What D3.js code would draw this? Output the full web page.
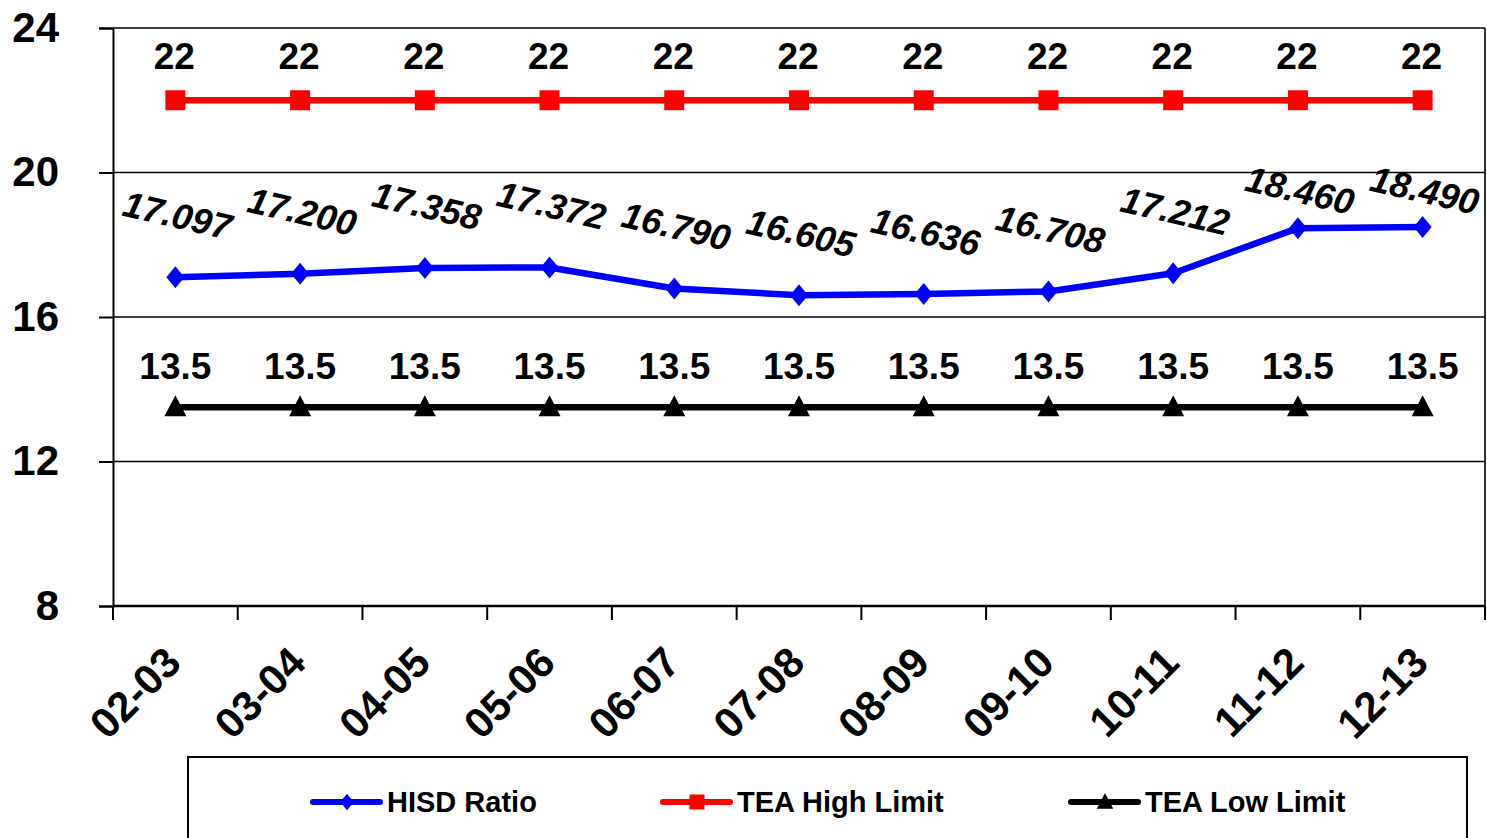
<!DOCTYPE html>
<html>
<head>
<meta charset="utf-8">
<script src="https://cdn.jsdelivr.net/npm/d3@7/dist/d3.min.js"></script>
<style>
  html, body { margin: 0; padding: 0; background: #fff; }
  svg { display: block; }
  text { font-family: "Liberation Sans", Arial, sans-serif; font-weight: bold; fill: #000; }
</style>
</head>
<body>
<svg id="chart" width="1487" height="838"></svg>
<script>
// School years on the x axis
const categories = ["02-03", "03-04", "04-05", "05-06", "06-07", "07-08", "08-09", "09-10", "10-11", "11-12", "12-13"];
// Student/teacher ratio series
const hisdRatio = [17.097, 17.200, 17.358, 17.372, 16.790, 16.605, 16.636, 16.708, 17.212, 18.460, 18.490];
const teaHigh   = [22, 22, 22, 22, 22, 22, 22, 22, 22, 22, 22];
const teaLow    = [13.5, 13.5, 13.5, 13.5, 13.5, 13.5, 13.5, 13.5, 13.5, 13.5, 13.5];
const yTicks    = [8, 12, 16, 20, 24];
const seriesNames = ["HISD Ratio", "TEA High Limit", "TEA Low Limit"];

const svg = d3.select("#chart");
const plot = { left: 113, right: 1485, top: 28, bottom: 606 };

const x = d3.scaleBand().domain(categories).range([plot.left, plot.right]);
const y = d3.scaleLinear().domain([8, 24]).range([plot.bottom, plot.top]);
const cx = c => x(c) + x.bandwidth() / 2;

// gridlines and frame
svg.append("g").selectAll("line").data(yTicks.filter(v => v > 8)).join("line")
  .attr("x1", plot.left).attr("x2", plot.right)
  .attr("y1", d => y(d)).attr("y2", d => y(d))
  .attr("stroke", "#000").attr("stroke-width", 1.6);
svg.append("line").attr("x1", plot.right).attr("x2", plot.right)
  .attr("y1", plot.top).attr("y2", plot.bottom)
  .attr("stroke", "#000").attr("stroke-width", 1.6);

// y axis
const yAxis = svg.append("g").attr("transform", `translate(${plot.left},0)`)
  .call(d3.axisLeft(y).tickValues(yTicks).tickSize(14).tickPadding(40).tickFormat(d3.format("d")));
yAxis.select(".domain").attr("stroke", "#000").attr("stroke-width", 2);
yAxis.selectAll(".tick line").attr("stroke", "#000").attr("stroke-width", 2);
yAxis.selectAll(".tick text").style("font-size", "42px").style("font-weight", "bold")
  .style("font-family", "'Liberation Sans', Arial, sans-serif").attr("fill", "#000");

// x axis: baseline, boundary ticks, rotated labels
svg.append("line").attr("x1", plot.left).attr("x2", plot.right)
  .attr("y1", plot.bottom).attr("y2", plot.bottom)
  .attr("stroke", "#000").attr("stroke-width", 2.5);
const bounds = categories.map(c => x(c)).concat([plot.right]);
svg.append("g").selectAll("line").data(bounds).join("line")
  .attr("x1", d => d).attr("x2", d => d)
  .attr("y1", plot.bottom).attr("y2", plot.bottom + 14)
  .attr("stroke", "#000").attr("stroke-width", 2);
svg.append("g").selectAll("text").data(categories).join("text")
  .attr("transform", d => `translate(${cx(d) + 8},665) rotate(-45)`)
  .attr("text-anchor", "end")
  .style("font-size", "42px")
  .text(d => d);

// series
const series = [
  { name: seriesNames[0], values: hisdRatio, color: "#0000ff", marker: "diamond" },
  { name: seriesNames[1], values: teaHigh,   color: "#ff0000", marker: "square" },
  { name: seriesNames[2], values: teaLow,    color: "#000000", marker: "triangle" }
];
const markerPath = {
  diamond: "M0,-11L9,0L0,11L-9,0Z",
  square: "M-10,-10H10V10H-10Z",
  triangle: "M0,-12L11,9H-11Z"
};
const line = d3.line().x((d, i) => cx(categories[i])).y(d => y(d));

series.forEach(s => {
  const g = svg.append("g");
  g.append("path").datum(s.values).attr("d", line)
    .attr("fill", "none").attr("stroke", s.color).attr("stroke-width", 6.5)
    .attr("stroke-linejoin", "round");
  g.selectAll("path.m").data(s.values).join("path").attr("class", "m")
    .attr("d", markerPath[s.marker])
    .attr("transform", (d, i) => `translate(${cx(categories[i])},${y(d)})`)
    .attr("fill", s.color);
});

// value labels
svg.append("g").selectAll("text").data(teaHigh).join("text")
  .attr("x", (d, i) => cx(categories[i]) - 1).attr("y", d => y(d) - 31)
  .attr("text-anchor", "middle").style("font-size", "37px")
  .text(d => d3.format("d")(d));
svg.append("g").selectAll("text").data(teaLow).join("text")
  .attr("x", (d, i) => cx(categories[i])).attr("y", d => y(d) - 28)
  .attr("text-anchor", "middle").style("font-size", "37px")
  .text(d => d3.format(".1f")(d));
const labelTop = y(20) + 18;
svg.append("g").selectAll("text").data(hisdRatio).join("text")
  .attr("transform", (d, i) => `translate(${cx(categories[i]) + 2},${Math.max(labelTop, y(d) - 62)}) rotate(13)`)
  .attr("text-anchor", "middle").attr("dominant-baseline", "central")
  .style("font-size", "36px").style("font-style", "italic")
  .text(d => d3.format(".3f")(d));

// legend
const legend = svg.append("g");
legend.append("rect").attr("x", 188).attr("y", 757).attr("width", 1279).attr("height", 120)
  .attr("fill", "none").attr("stroke", "#000").attr("stroke-width", 2);
const legendX = [313, 663, 1071];
series.forEach((s, i) => {
  const g = legend.append("g").attr("transform", `translate(${legendX[i]},802)`);
  g.append("line").attr("x1", 0).attr("x2", 67).attr("y1", 0).attr("y2", 0)
    .attr("stroke", s.color).attr("stroke-width", 6).attr("stroke-linecap", "round");
  g.append("path").attr("d", markerPath[s.marker])
    .attr("transform", `translate(34,0) scale(0.75)`).attr("fill", s.color);
  g.append("text").attr("x", 74).attr("y", 0).attr("dominant-baseline", "central")
    .style("font-size", "29px").text(s.name);
});
</script>
</body>
</html>
